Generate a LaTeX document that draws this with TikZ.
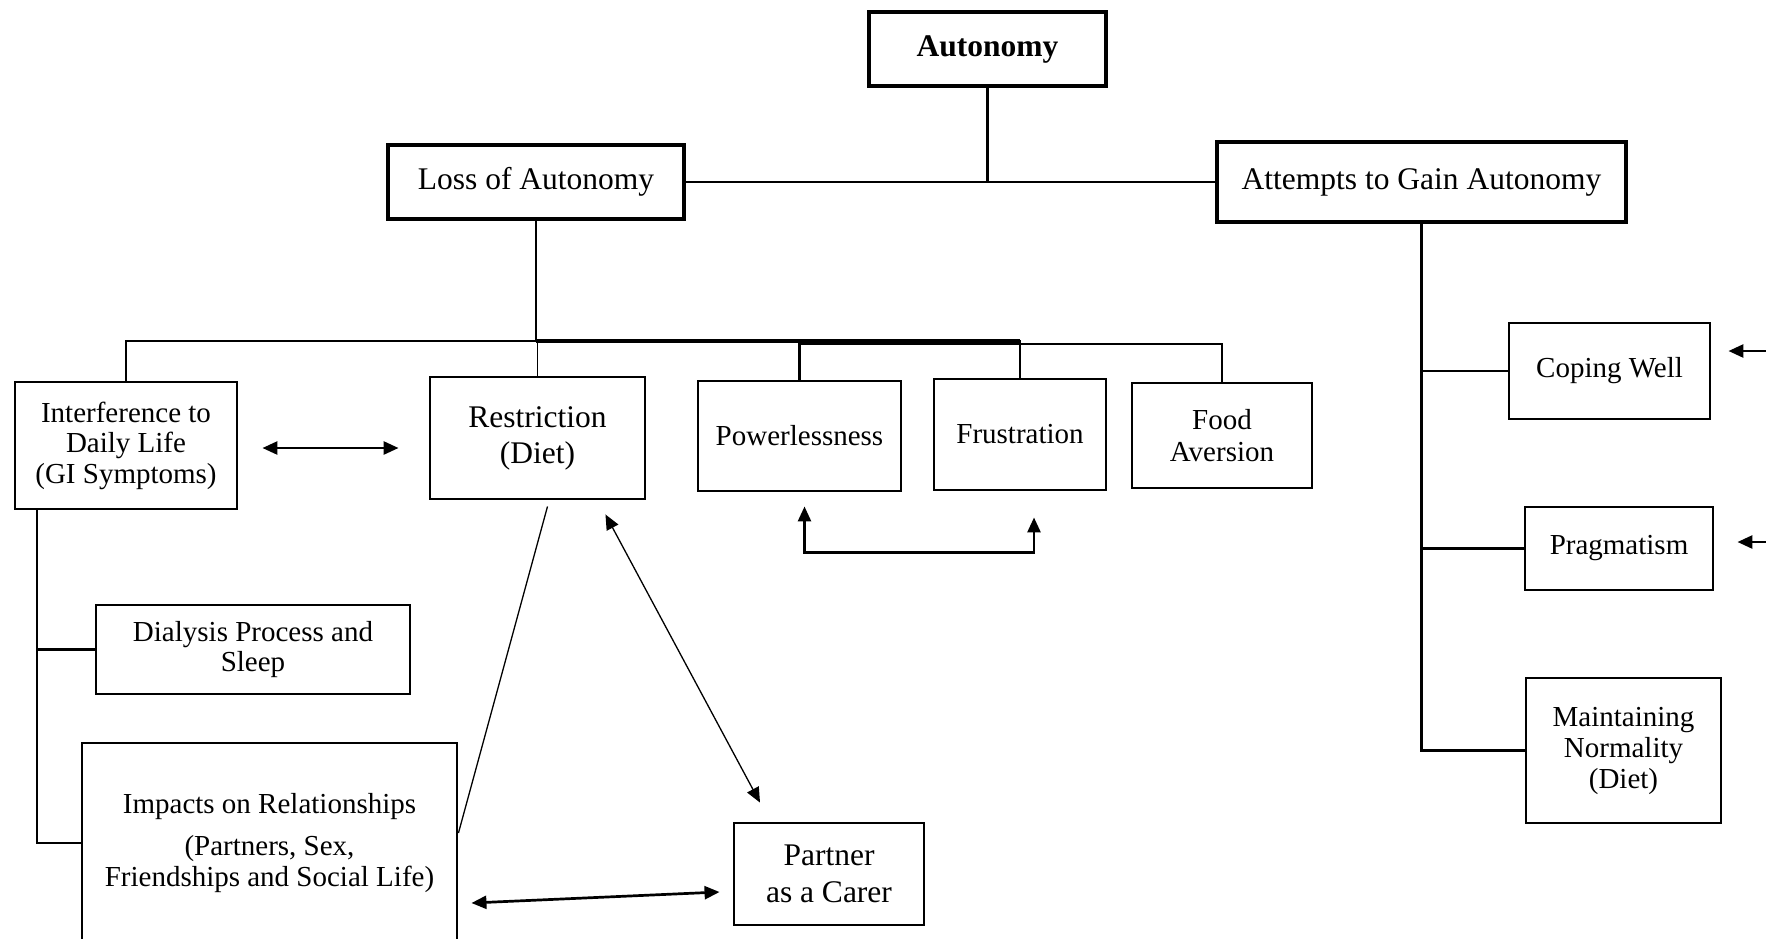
\documentclass[tikz,border=0pt]{standalone}
\usepackage{fontspec}
\setmainfont{Liberation Serif}
\usetikzlibrary{arrows.meta}
\tikzset{
  box/.style={draw, line width=2.9pt, align=center, inner sep=0pt, font=\fontsize{29}{30.5}\selectfont},
  topbox/.style={box, line width=4.8pt, font=\fontsize{31.5}{34}\selectfont},
  bigtext/.style={font=\fontsize{31.5}{36}\selectfont},
  conn/.style={line width=2.7pt},
  thinline/.style={line width=1.3pt},
  dbl/.style={{Triangle[length=15pt,width=13pt]}-{Triangle[length=15pt,width=13pt]}},
  sgl/.style={-{Triangle[length=15pt,width=13pt]}}
}
\begin{document}
\begin{tikzpicture}[x=1pt,y=-1pt]
\useasboundingbox (0,0) rectangle (1766,938);
\clip (0,0) rectangle (1766,938);
\fill[white] (0,0) rectangle (1766,938);

% nodes
\node[topbox, minimum width=237pt, minimum height=74pt] (auto) at (987.5,49) {\textbf{Autonomy}};
\node[topbox, minimum width=296pt, minimum height=74pt] (loss) at (536,182) {Loss of Autonomy};
\node[topbox, minimum width=409pt, minimum height=80pt] (gain) at (1421.5,182) {Attempts to Gain Autonomy};

\node[box, minimum width=222pt, minimum height=127pt] (interf) at (126,445.5) {Interference to\\Daily Life\\(GI Symptoms)};
\node[box, bigtext, minimum width=215pt, minimum height=122pt] (restr) at (537.5,438) {Restriction\\(Diet)};
\node[box, minimum width=203pt, minimum height=110pt] (power) at (799.5,436) {Powerlessness};
\node[box, minimum width=172pt, minimum height=111pt] (frus) at (1020,434.5) {Frustration};
\node[box, font=\fontsize{29}{31.5}\selectfont, minimum width=180pt, minimum height=105pt] (food) at (1222,435.5) {Food\\Aversion};

\node[box, minimum width=314pt, minimum height=89pt] (dial) at (253,649.5) {Dialysis Process and\\Sleep};
\node[box, minimum width=375pt, minimum height=200pt] (impact) at (269.5,843) {Impacts on Relationships\\[12pt](Partners, Sex,\\Friendships and Social Life)};
\node[box, font=\fontsize{31.5}{37}\selectfont, minimum width=190pt, minimum height=102pt] (partner) at (829,874) {Partner\\as a Carer};

\node[box, minimum width=201pt, minimum height=96pt] (coping) at (1609.5,371) {Coping Well};
\node[box, minimum width=188pt, minimum height=83pt] (prag) at (1619,548.5) {Pragmatism};
\node[box, font=\fontsize{29}{31}\selectfont, minimum width=195pt, minimum height=145pt] (maint) at (1623.5,750.5) {Maintaining\\Normality\\(Diet)};

% top connectors
\draw[conn] (auto.south) -- (auto.south |- loss.east);
\draw[conn] (loss.east) -- (gain.west);

% bus under Loss of Autonomy
\coordinate (bus) at (0,341);
\coordinate (bustwo) at (0,344);
\draw[conn] (loss.south) -- (loss.south |- bus);
\draw[conn] (interf.north) -- (interf.north |- bus) -| (frus.north);
\draw[line width=4.8pt] (loss.south |- bus) -- (frus.north |- bus);
\draw[thinline] (restr.north) -- (restr.north |- bus);
\draw[conn] (power.north) -- (power.north |- bustwo) -| (food.north);

% left tree
\coordinate (lv) at (37,0);
\draw[conn] (interf.south -| lv) |- (impact.west);
\draw[conn] (dial.west) -- (dial.west -| lv);

% right tree
\draw[conn] (gain.south) |- (maint.west);
\draw[conn] (coping.west) -- (coping.west -| gain.south);
\draw[conn] (prag.west) -- (prag.west -| gain.south);

% arrows
\draw[conn, dbl] ([shift={(24,2.5)}]interf.east) -- ([shift={(-30,10)}]restr.west);
\draw[conn, dbl] ([shift={(5,14)}]power.south) -- ++(0,46) -| ([shift={(14,26)}]frus.south);
\draw[thinline] ([shift={(10,6)}]restr.south) -- ([shift={(0,-10)}]impact.east);
\draw[thinline, dbl] ([shift={(-41,14)}]restr.south east) -- ([shift={(-69,-19)}]partner.north);
\draw[conn, dbl] ([shift={(13,60)}]impact.east) -- ([shift={(-13,18)}]partner.west);

\coordinate (ca) at (1770,351);
\coordinate (cb) at (1770,542);
\draw[conn, sgl] (ca) -- ([shift={(17,-20)}]coping.east);
\draw[conn, sgl] (cb) -- ([shift={(23,-6.5)}]prag.east);
\end{tikzpicture}
\end{document}
